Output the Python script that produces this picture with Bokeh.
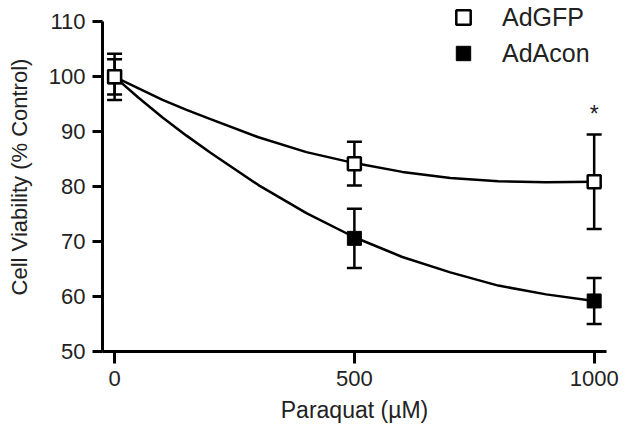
from bokeh.plotting import figure
from bokeh.models import (ColumnDataSource, Range1d, Whisker, TeeHead, Legend,
                          LegendItem, FixedTicker, Label)
from bokeh.embed import file_html
from bokeh.resources import INLINE

# ---- data ----
dose = [0, 500, 1000]
gfp_mean = [100.0, 84.2, 80.9]
gfp_err = [4.2, 4.0, 8.6]
acon_mean = [100.0, 70.6, 59.2]
acon_err = [3.2, 5.4, 4.2]

# fitted curves as drawn
curve_x = [0, 50, 100, 150, 200, 300, 400, 500, 600, 700, 800, 900, 1000]
gfp_curve = [100.0, 97.9, 95.8, 94.0, 92.3, 89.0, 86.3, 84.3, 82.7, 81.6, 81.0, 80.8, 80.9]
acon_curve = [100.0, 96.2, 92.6, 89.3, 86.2, 80.3, 75.2, 70.8, 67.2, 64.4, 62.0, 60.4, 59.2]

x_ticks = [0, 500, 1000]
y_ticks = [50, 60, 70, 80, 90, 100, 110]
star_x, star_y, star_text = 1000, 93.2, "*"
x_title = "Paraquat (\u00b5M)"
y_title = "Cell Viability (% Control)"

FONT = "Liberation Sans"
TXT = "#222222"

p = figure(width=620, height=426, output_backend="svg", toolbar_location=None,
           x_range=Range1d(-25.2, 1025.7), y_range=Range1d(50, 113.54),
           min_border_left=102, min_border_right=14, min_border_top=2,
           min_border_bottom=75)
p.outline_line_color = None
p.grid.visible = False
p.background_fill_color = "white"
p.border_fill_color = "white"

# curves
p.line(curve_x, gfp_curve, line_color="black", line_width=2.5)
p.line(curve_x, acon_curve, line_color="black", line_width=2.5)

# error bars
for mean, err in ((gfp_mean, gfp_err), (acon_mean, acon_err)):
    src = ColumnDataSource(dict(x=dose,
                                lo=[m - e for m, e in zip(mean, err)],
                                hi=[m + e for m, e in zip(mean, err)]))
    w = Whisker(source=src, base="x", lower="lo", upper="hi", dimension="height",
                line_color="black", line_width=2.5,
                lower_head=TeeHead(size=15, line_width=2.5, line_color="black"),
                upper_head=TeeHead(size=15, line_width=2.5, line_color="black"))
    p.add_layout(w)

r_acon = p.scatter(dose, acon_mean, marker="square", size=14,
                   fill_color="black", line_color="black", line_width=1)
r_gfp = p.scatter(dose, gfp_mean, marker="square", size=13,
                  fill_color="white", line_color="black", line_width=2.5)

p.add_layout(Label(x=star_x, y=star_y, text=star_text, text_align="center",
                   text_baseline="middle", text_font=FONT,
                   text_font_size="23px", text_color=TXT))

legend = Legend(items=[LegendItem(label="AdGFP", renderers=[r_gfp]),
                       LegendItem(label="AdAcon", renderers=[r_acon])],
                location=(343, 280), padding=0, margin=0, spacing=0,
                glyph_width=36, glyph_height=36, label_standoff=21,
                label_text_font=FONT, label_text_font_size="25px",
                label_text_color=TXT, border_line_color=None,
                background_fill_alpha=0)
p.add_layout(legend)

# axes
for ax in (p.xaxis, p.yaxis):
    ax.axis_line_width = 3
    ax.axis_line_color = "black"
    ax.major_tick_line_width = 3
    ax.major_tick_line_color = "black"
    ax.major_tick_in = 0
    ax.minor_tick_line_color = None
    ax.major_label_text_font = FONT
    ax.major_label_text_font_size = "22px"
    ax.major_label_text_color = TXT
    ax.axis_label_text_font = FONT
    ax.axis_label_text_font_style = "normal"
    ax.axis_label_text_color = TXT

p.xaxis.ticker = FixedTicker(ticks=x_ticks)
p.yaxis.ticker = FixedTicker(ticks=y_ticks)
p.yaxis.bounds = (50, 110)
p.xaxis.major_tick_out = 12
p.yaxis.major_tick_out = 10
p.xaxis.major_label_standoff = 7
p.yaxis.major_label_standoff = 7

p.yaxis.axis_label = y_title
p.yaxis.axis_label_standoff = 14
p.yaxis.axis_label_text_font_size = "22px"
p.xaxis.axis_label = x_title
p.xaxis.axis_label_standoff = 8
p.xaxis.axis_label_text_font_size = "23px"

open("out.html", "w").write(file_html(p, INLINE))
